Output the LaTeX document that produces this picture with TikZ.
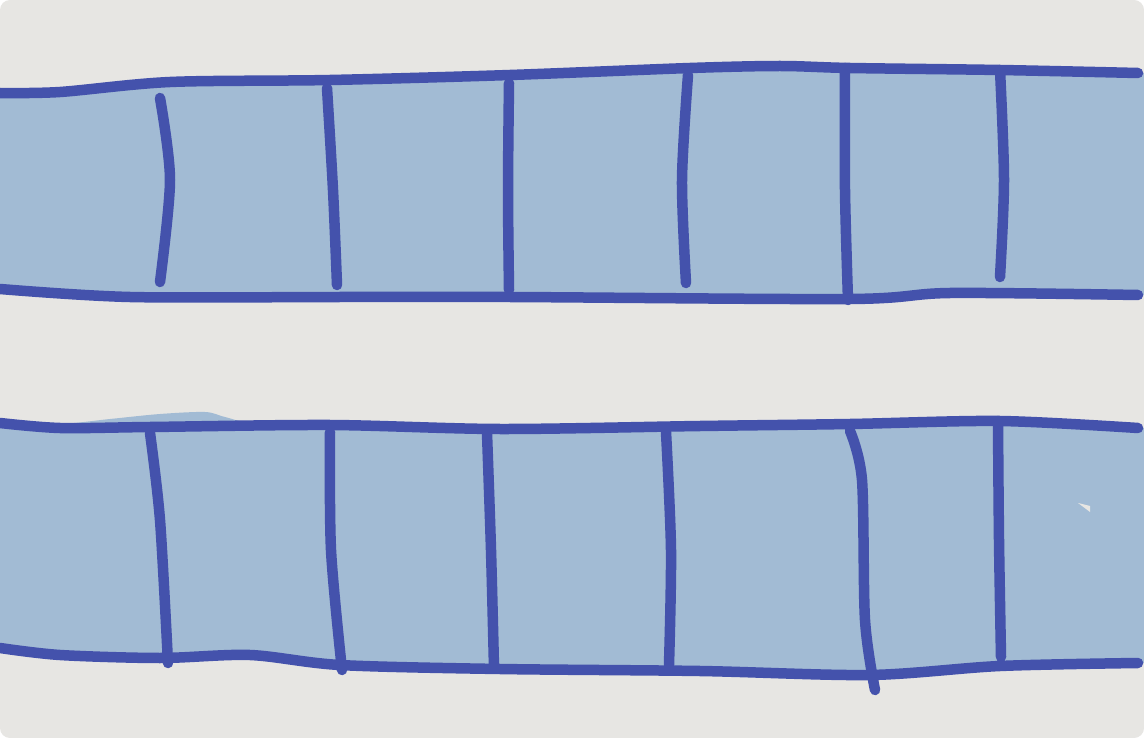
\documentclass[tikz,border=0pt]{standalone}
\usetikzlibrary{calc}
\definecolor{bgc}{HTML}{E7E6E3}
\definecolor{fillc}{HTML}{A2BBD4}
\definecolor{linec}{HTML}{4452AC}
\tikzset{
  pen/.style={draw=linec, line width=10.5pt, line cap=round, line join=round},
  strip/.style={fill=fillc}
}
\begin{document}
\begin{tikzpicture}[x=1pt,y=-1pt]
\useasboundingbox (0,0) rectangle (1144,738);
\fill[white] (0,0) rectangle (1144,738);
\fill[bgc, rounded corners=10pt] (0,0) rectangle (1144,738);
% top strip fill
\fill[strip] plot[smooth] coordinates {(0,93) (60,92) (170,82) (330,80) (510,75) (690,68) (780,66) (850,68) (1000,70) (1144,73)}
  -- plot[smooth] coordinates {(1144,295) (1000,294) (950,293) (850,299) (510,297) (340,297) (130,297) (0,289)} -- cycle;
% bottom strip fill
\fill[strip] plot[smooth] coordinates {(0,423) (60,424) (110,419) (160,414) (205,412) (225,417) (260,425) (330,425) (500,429) (700,426) (850,424) (1000,421) (1144,428)}
  -- plot[smooth] coordinates {(1144,663) (1000,666) (870,675) (700,671) (500,669) (340,665) (250,655) (160,658) (60,655) (0,648)} -- cycle;
% top strip lines
\draw[pen] plot[smooth] coordinates {(0,93) (60,92) (170,82) (330,80) (510,75) (690,68) (780,66) (850,68) (1000,70) (1138,73)};
\draw[pen] plot[smooth] coordinates {(0,289) (130,297) (340,297) (510,297) (850,299) (950,293) (1138,295)};
\draw[pen] plot[smooth] coordinates {(160,98) (170,180) (160,282)};
\draw[pen] plot[smooth] coordinates {(327,88) (333,190) (337,285)};
\draw[pen] plot[smooth] coordinates {(509,83) (508,190) (509,290)};
\draw[pen] plot[smooth] coordinates {(688,75) (682,180) (686,283)};
\draw[pen] plot[smooth] coordinates {(845,68) (845,190) (848,300)};
\draw[pen] plot[smooth] coordinates {(1000,70) (1004,180) (1000,277)};
% bottom strip lines
\draw[pen] plot[smooth] coordinates {(0,423) (60,428) (150,427) (330,425) (500,429) (700,426) (850,424) (1000,421) (1138,428)};
\draw[pen] plot[smooth] coordinates {(0,648) (60,655) (160,658) (250,655) (340,665) (500,669) (700,671) (870,675) (1000,666) (1138,663)};
\draw[pen] plot[smooth] coordinates {(150,433) (160,520) (168,663)};
\draw[pen] plot[smooth] coordinates {(330,432) (331,550) (342,670)};
\draw[pen] plot[smooth] coordinates {(487,433) (491,550) (494,668)};
\draw[pen] plot[smooth] coordinates {(666,432) (671,550) (669,665)};
\draw[pen] plot[smooth] coordinates {(850,431) (862,480) (865,620) (875,690)};
\draw[pen] plot[smooth] coordinates {(998,421) (999,540) (1001,657)};
% small light mark
\fill[bgc] (1078,503) -- (1090,506) -- (1090,512) -- cycle;
\end{tikzpicture}
\end{document}
